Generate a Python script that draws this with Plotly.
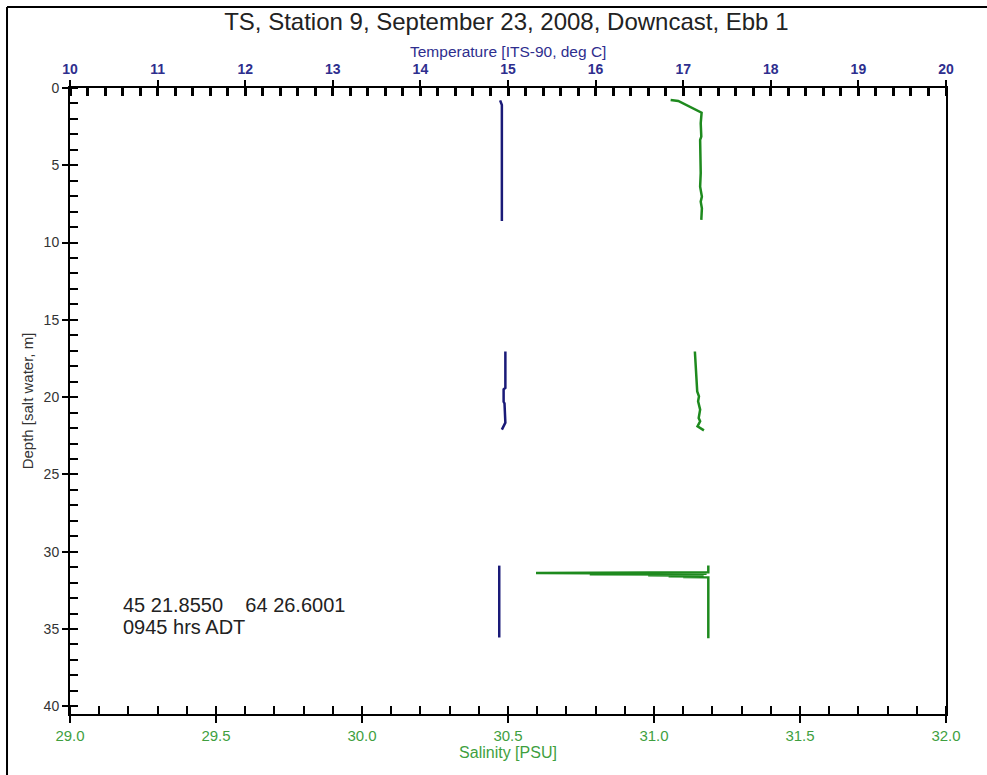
import plotly.graph_objects as go

# ---- data ----
temp_T = [14.91, 14.93, 14.93, 14.93, None,
          14.97, 14.97, 14.95, 14.95, 14.96, 14.97, 14.93, None,
          14.90, 14.90]
temp_D = [0.8, 1.1, 5.0, 8.6, None,
          17.05, 19.4, 19.5, 20.3, 20.4, 21.65, 22.1, None,
          30.9, 35.55]

sal_S = [31.057, 31.083, 31.163, 31.160, 31.162, 31.158, 31.160, 31.158, 31.164, 31.160, 31.164, 31.162, None,
         31.140, 31.146, 31.148, 31.154, 31.151, 31.158, 31.153, 31.158, 31.149, 31.171, None,
         31.186, 31.186, 30.596, 30.90, 31.18, 30.78, 31.10, 30.98, 31.16, 31.05, 31.17, 31.10, 31.186, 31.186, 31.186]
sal_D = [0.78, 0.84, 1.6, 2.28, 3.14, 3.36, 5.5, 6.38, 7.03, 7.35, 7.78, 8.53, None,
         17.05, 18.88, 19.63, 19.95, 20.27, 20.81, 21.35, 21.56, 21.89, 22.15, None,
         30.9, 31.33, 31.37, 31.40, 31.42, 31.46, 31.48, 31.52, 31.55, 31.58, 31.60, 31.64, 31.66, 33.5, 35.6]

title_text = "TS, Station 9, September 23, 2008, Downcast, Ebb 1"
temp_title = "Temperature [ITS-90, deg C]"
sal_title = "Salinity [PSU]"
depth_title = "Depth [salt water, m]"
note_lines = ["45 21.8550    64 26.6001", "0945 hrs ADT"]
note_depths = [33.42, 34.84]

sal_ticks = [29.0, 29.5, 30.0, 30.5, 31.0, 31.5, 32.0]
temp_ticks = [10, 11, 12, 13, 14, 15, 16, 17, 18, 19, 20]
depth_ticks = [0, 5, 10, 15, 20, 25, 30, 35, 40]

NAVY = "#2e2e8e"
GREEN = "#3f9f3f"
TXT = "#333333"
FONT = "Liberation Sans, Arial, sans-serif"

fig = go.Figure()
fig.add_trace(go.Scatter(x=sal_S, y=sal_D, mode="lines", xaxis="x", yaxis="y",
                         line=dict(color="#1e8a1e", width=2.5), showlegend=False,
                         connectgaps=False))
fig.add_trace(go.Scatter(x=temp_T, y=temp_D, mode="lines", xaxis="x2", yaxis="y",
                         line=dict(color="#1a1a78", width=2.5), showlegend=False,
                         connectgaps=False))

yr = [40.5, 0]
fig.update_layout(
    width=987, height=775,
    margin=dict(l=70, r=41, t=88, b=61),
    paper_bgcolor="white", plot_bgcolor="white",
    font=dict(family=FONT, color=TXT),
    title=dict(text=title_text, x=0.513, xanchor="center", y=0.972, yanchor="middle",
               font=dict(size=24, color="#222222", family=FONT)),
    xaxis=dict(range=[29, 32], tickvals=sal_ticks, tickformat=".1f",
               ticks="outside", ticklen=7, tickwidth=2, tickcolor="black",
               minor=dict(dtick=0.1, ticks="inside", ticklen=8, tickwidth=2, tickcolor="black"),
               showline=True, linecolor="black", linewidth=2,
               showgrid=False, zeroline=False,
               tickfont=dict(size=15, color=GREEN, family=FONT),
               title=dict(text=sal_title, font=dict(size=16, color=GREEN, family=FONT), standoff=0)),
    xaxis2=dict(range=[10, 20], tickvals=temp_ticks, overlaying="x", side="top",
                ticks="outside", ticklen=6, tickwidth=2, tickcolor="black",
                minor=dict(dtick=0.2, ticks="inside", ticklen=8, tickwidth=3, tickcolor="black"),
                showline=True, linecolor="black", linewidth=2,
                showgrid=False, zeroline=False,
                tickfont=dict(size=14, color=NAVY, family=FONT, weight="bold")),
    xaxis3=dict(range=[29, 32], tickvals=sal_ticks, overlaying="x", side="bottom",
                ticks="inside", ticklen=8, tickwidth=2, tickcolor="black",
                showticklabels=False, showline=False, showgrid=False, zeroline=False),
    xaxis4=dict(range=[10, 20], tickvals=temp_ticks, overlaying="x", side="top",
                ticks="inside", ticklen=8, tickwidth=2, tickcolor="black",
                showticklabels=False, showline=False, showgrid=False, zeroline=False),
    yaxis=dict(range=yr, tickvals=depth_ticks,
               ticks="outside", ticklen=6, tickwidth=2, tickcolor="black",
               minor=dict(dtick=1, ticks="inside", ticklen=8, tickwidth=2, tickcolor="black"),
               showline=True, linecolor="black", linewidth=2, mirror=True,
               showgrid=False, zeroline=False,
               tickfont=dict(size=14, color=TXT, family=FONT),
               title=dict(text=depth_title, font=dict(size=15, color=TXT, family=FONT), standoff=6)),
    yaxis2=dict(range=yr, tickvals=depth_ticks, overlaying="y", side="left",
                ticks="inside", ticklen=8, tickwidth=2, tickcolor="black",
                showticklabels=False, showline=False, showgrid=False, zeroline=False),
)

# temperature axis title (placed just above its tick labels)
fig.add_annotation(xref="paper", yref="paper", x=0.5, y=1.0585, xanchor="center", yanchor="middle",
                   text=temp_title, showarrow=False,
                   font=dict(size=15.5, color=NAVY, family=FONT))

for line_text, d in zip(note_lines, note_depths):
    fig.add_annotation(xref="x", yref="y", x=29.175, y=d, xanchor="left", yanchor="middle",
                       text=line_text, align="left", showarrow=False,
                       font=dict(size=20, color="#222222", family=FONT))

# outer frame (left and top edges visible in reference)
fig.add_shape(type="line", xref="paper", yref="paper", x0=-0.0719, x1=-0.0719, y0=-0.2, y1=1.1294,
              line=dict(color="black", width=2))
fig.add_shape(type="line", xref="paper", yref="paper", x0=-0.0719, x1=1.1, y0=1.1294, y1=1.1294,
              line=dict(color="black", width=2))

fig.write_html("out.html")
